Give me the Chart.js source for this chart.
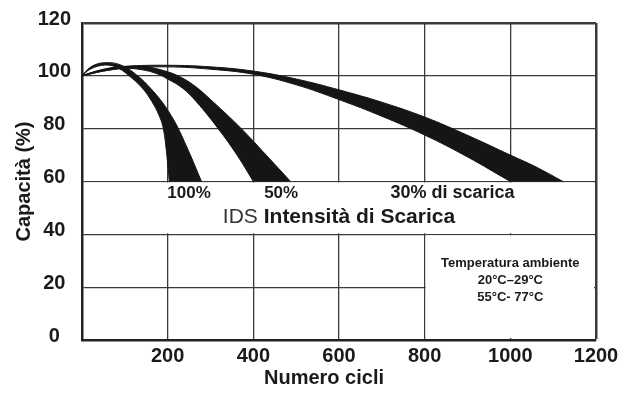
<!DOCTYPE html>
<html>
<head>
<meta charset="utf-8">
<script src="https://cdn.jsdelivr.net/npm/chart.js@4.4.1/dist/chart.umd.min.js"></script>
<style>
html,body{margin:0;padding:0;background:#fff}
#wrap{width:638px;height:396px;position:relative}
</style>
</head>
<body>
<div id="wrap"><canvas id="c"></canvas></div>
<script>
// ---- tick labels ----
const xTickLabels = [200, 400, 600, 800, 1000, 1200];
const yTickLabels = [0, 20, 40, 60, 80, 100, 120];

// ---- 100% discharge band ----
const ids100InnerCycles = [0, 20, 55, 85, 110, 140, 163, 180, 190, 198, 204];
const ids100InnerCap    = [100, 102.6, 104.1, 102.9, 100, 95.5, 90.3, 85, 80, 70, 60];
const ids100OuterCycles = [0, 25, 60, 95, 130, 160, 186, 208, 225, 253, 279];
const ids100OuterCap    = [100, 103.8, 105, 103.8, 100, 95.3, 90.3, 85, 80, 70, 60];

// ---- 50% discharge band ----
const ids50InnerCycles = [0, 50, 100, 140, 175, 200, 235, 267, 318, 362, 400];
const ids50InnerCap    = [100, 101.8, 102.8, 102.3, 100.8, 98.8, 95.3, 90.2, 80, 70, 60];
const ids50OuterCycles = [0, 50, 100, 150, 190, 224, 262, 305, 372, 430, 487];
const ids50OuterCap    = [100, 102.3, 103.5, 103.4, 102, 100, 96.3, 90.3, 80, 70, 60];

// ---- 30% discharge band ----
const ids30InnerCycles = [0, 50, 100, 200, 300, 400, 500, 600, 700, 800, 900, 1000];
const ids30InnerCap    = [100, 101.8, 102.9, 103.4, 102.5, 100.6, 96.6, 91, 84.7, 77.6, 69.3, 60];
const ids30OuterCycles = [0, 50, 100, 200, 300, 400, 500, 600, 700, 800, 900, 1000, 1060, 1123];
const ids30OuterCap    = [100, 102.5, 103.6, 104, 103.4, 101.8, 98.8, 94.7, 90, 84.4, 77.5, 70, 65.5, 60];

// ---- texts ----
const bandLabels = ['100%', '50%', '30% di scarica'];
const idsPrefix = 'IDS';
const idsTitle = 'Intensità di Scarica';
const tempLines = ['Temperatura ambiente', '20°C–29°C', '55°C- 77°C'];
const xTitle = 'Numero cicli';
const yTitle = 'Capacità (%)';

// Build a closed band outline: inner curve from its bottom up to the origin, then outer curve down.
function bandShape(ic, iv, oc, ov) {
  const pts = [];
  for (let i = ic.length - 1; i >= 0; i--) pts.push({x: ic[i], y: iv[i]});
  for (let i = 1; i < oc.length; i++) pts.push({x: oc[i], y: ov[i]});
  return pts;
}

const FONT = "'Liberation Sans', Arial, Helvetica, sans-serif";
const INK = '#1a1a1a';

const bandStyle = {
  fill: 'shape',
  backgroundColor: '#151515',
  borderColor: '#151515',
  borderWidth: 1,
  pointRadius: 0,
  tension: 0.4
};

// layout of annotations (in data units)
const ann = {
  bandLabelY: 55.5,
  bandLabelX: [250, 465, 865],
  idsX: 600, idsY: 46.3,
  tempX: 1000, tempY: [28.9, 22.6, 16.3],
  stripTop: 60, stripBottom: 40, boxLeft: 800
};

const maskPlugin = {
  id: 'mask',
  beforeDatasetsDraw(chart) {
    const {ctx, chartArea: a, scales: {x, y}} = chart;
    const yTop = y.getPixelForValue(ann.stripTop);
    const yBot = y.getPixelForValue(ann.stripBottom);
    const xBox = x.getPixelForValue(ann.boxLeft);
    ctx.save();
    ctx.fillStyle = '#fff';
    ctx.fillRect(a.left + 2, yTop + 1, a.right - a.left - 4, yBot - yTop - 2);
    ctx.fillRect(xBox + 1, yBot + 1, a.right - 2 - (xBox + 1), a.bottom - 2 - (yBot + 1));
    ctx.restore();
  }
};

const textPlugin = {
  id: 'texts',
  afterDraw(chart) {
    const {ctx, scales: {x, y}} = chart;
    ctx.save();
    ctx.fillStyle = INK;
    ctx.textBaseline = 'middle';
    ctx.textAlign = 'center';
    // band labels
    const by = y.getPixelForValue(ann.bandLabelY);
    ctx.font = 'bold 17px ' + FONT;
    ctx.fillText(bandLabels[0], x.getPixelForValue(ann.bandLabelX[0]), by);
    ctx.fillText(bandLabels[1], x.getPixelForValue(ann.bandLabelX[1]), by);
    ctx.font = 'bold 18px ' + FONT;
    ctx.fillText(bandLabels[2], x.getPixelForValue(ann.bandLabelX[2]), by);
    // IDS line
    const iy = y.getPixelForValue(ann.idsY);
    const pf = '21px ' + FONT, bf = 'bold 21px ' + FONT;
    ctx.font = pf; const w1 = ctx.measureText(idsPrefix + ' ').width;
    ctx.font = bf; const w2 = ctx.measureText(idsTitle).width;
    let sx = x.getPixelForValue(ann.idsX) - (w1 + w2) / 2;
    ctx.textAlign = 'left';
    ctx.font = pf; ctx.fillStyle = '#333';
    ctx.fillText(idsPrefix, sx, iy);
    ctx.font = bf; ctx.fillStyle = INK;
    ctx.fillText(idsTitle, sx + w1, iy);
    // temperature box
    ctx.textAlign = 'center';
    ctx.font = 'bold 13px ' + FONT;
    const tx = x.getPixelForValue(ann.tempX);
    tempLines.forEach((t, i) => ctx.fillText(t, tx, y.getPixelForValue(ann.tempY[i])));
    // x axis title
    ctx.font = 'bold 20px ' + FONT;
    ctx.fillText(xTitle, 324, 378);
    ctx.restore();
  }
};

const gridColor = '#3a3a3a';

new Chart(document.getElementById('c'), {
  type: 'line',
  data: {
    datasets: [
      Object.assign({label: bandLabels[0], data: bandShape(ids100InnerCycles, ids100InnerCap, ids100OuterCycles, ids100OuterCap)}, bandStyle),
      Object.assign({label: bandLabels[1], data: bandShape(ids50InnerCycles, ids50InnerCap, ids50OuterCycles, ids50OuterCap)}, bandStyle),
      Object.assign({label: bandLabels[2], data: bandShape(ids30InnerCycles, ids30InnerCap, ids30OuterCycles, ids30OuterCap)}, bandStyle)
    ]
  },
  options: {
    responsive: true,
    maintainAspectRatio: false,
    animation: false,
    events: [],
    layout: {padding: {left: 0, top: 21, right: 42, bottom: 0}},
    plugins: {legend: {display: false}, tooltip: {enabled: false}, title: {display: false}},
    scales: {
      x: {
        type: 'linear',
        min: 0, max: 1200,
        afterFit(s) { s.height = 56; },
        ticks: {
          stepSize: 200,
          autoSkip: false,
          maxRotation: 0,
          padding: 4,
          color: INK,
          font: {family: FONT, size: 20, weight: 'bold'},
          callback: v => xTickLabels.includes(v) ? String(v) : ''
        },
        grid: {
          color: gridColor,
          drawTicks: false,
          lineWidth: c => (c.tick && c.tick.value === 1200) ? 2.5 : 1.3
        },
        border: {display: true, color: '#222', width: 2.5}
      },
      y: {
        type: 'linear',
        min: 0, max: 120,
        afterFit(s) { s.width = 82; },
        title: {
          display: true,
          text: yTitle,
          color: INK,
          font: {family: FONT, size: 20, weight: 'bold', lineHeight: 1.2},
          padding: {top: 12, bottom: 0}
        },
        ticks: {
          stepSize: 20,
          autoSkip: false,
          padding: 11,
          crossAlign: 'center',
          labelOffset: -4,
          color: INK,
          font: {family: FONT, size: 20, weight: 'bold'},
          callback: v => yTickLabels.includes(v) ? String(v) : ''
        },
        grid: {
          color: gridColor,
          drawTicks: false,
          lineWidth: c => (c.tick && c.tick.value === 120) ? 2.5 : 1.3
        },
        border: {display: true, color: '#222', width: 2.5}
      }
    }
  },
  plugins: [maskPlugin, textPlugin]
});
</script>
</body>
</html>
